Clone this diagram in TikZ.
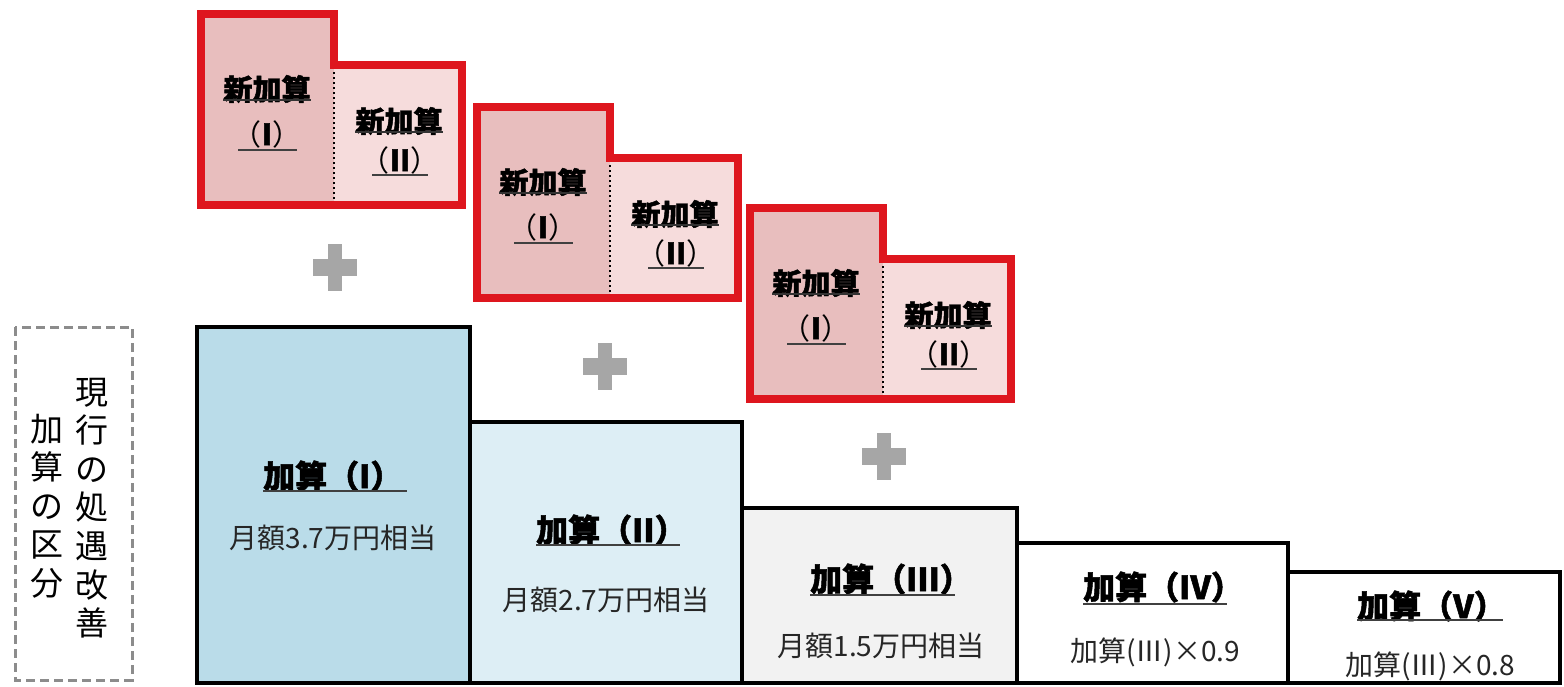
\documentclass[tikz,border=0pt]{standalone}
\usepackage{fontspec}
\newfontfamily\jp{Noto Sans CJK JP}[BoldFeatures={FakeBold=1.6}]
\definecolor{redline}{RGB}{222,22,30}
\definecolor{pinkA}{RGB}{232,190,190}
\definecolor{pinkB}{RGB}{246,220,220}
\definecolor{blueA}{RGB}{186,220,233}
\definecolor{blueB}{RGB}{221,238,245}
\definecolor{grayC}{RGB}{242,242,242}
\definecolor{plusgray}{RGB}{166,166,166}
\definecolor{dashgray}{RGB}{140,140,140}
\tikzset{
  x=1pt, y=-1pt,
  basebox/.style={draw=black, line width=4pt},
  head/.style={font=\jp\bfseries\fontsize{32}{34}\selectfont, inner sep=0pt, anchor=west},
  sub/.style={font=\jp\fontsize{28}{30}\selectfont, inner sep=0pt, text=black!85},
  newt/.style={font=\jp\bfseries\fontsize{29}{31}\selectfont, inner sep=0pt},
  newn/.style={font=\jp\fontsize{29}{31}\selectfont, inner sep=0pt},
  uline/.style={line width=2pt, black!75},
  thinul/.style={line width=1.4pt, black!80},
  redout/.style={draw=redline, line width=8pt, line join=miter},
  divider/.style={line width=2.2pt, dash pattern=on 2.2pt off 2.8pt, black},
  vert/.style={font=\jp\fontsize{33}{38.6}\selectfont, align=center, inner sep=0pt},
}
\newcommand\plussign[2]{%
  \fill[plusgray] (#1-22,#2-8.5) rectangle (#1+22,#2+8.5);
  \fill[plusgray] (#1-7,#2-23.5) rectangle (#1+7,#2+23.5);}
\newcommand\redgroup[1]{%
  \fill[pinkA] (201,14) rectangle (334,205);
  \fill[pinkB] (334,65) rectangle (462,205);
  \draw[divider] (334,67) -- (334,203);
  \draw[redout] (201,14) -- (334,14) -- (334,65) -- (462,65) -- (462,205) -- (201,205) -- cycle;
  \node[newt] (#1la) at (267,89) {新加算};
  \node[newn] (#1lb) at (267,134) {（\textbf{I}）};
  \draw[thinul] (#1la.south west) ++(0,-3) -- ([yshift=3pt]#1la.south east);
  \draw[uline] (238,150) -- (297,150);
  \node[newt] (#1ra) at (399,121) {新加算};
  \node[newn] (#1rb) at (400,160) {（\textbf{II}）};
  \draw[thinul] (#1ra.south west) ++(0,-3) -- ([yshift=3pt]#1ra.south east);
  \draw[uline] (372,175) -- (428,175);}
\begin{document}
\begin{tikzpicture}
\useasboundingbox (0,0) rectangle (1564,686);
\fill[white] (0,0) rectangle (1564,686);

% dashed label box
\draw[dashgray, line width=3pt, dash pattern=on 9pt off 5pt] (15,327) rectangle (132,680);
\node[vert] (colR) at (92,508) {現\\行\\の\\処\\遇\\改\\善};
\node[vert] (colL) at (47,506) {加\\算\\の\\区\\分};

% base boxes
\draw[basebox, fill=blueA] (197,327) rectangle (470,683);
\draw[basebox, fill=blueB] (470,422) rectangle (742,683);
\draw[basebox, fill=grayC] (742,508) rectangle (1017,683);
\draw[basebox, fill=white] (1017,543) rectangle (1288,683);
\draw[basebox, fill=white] (1288,572) rectangle (1560,683);

% headings
\node[head] (h1) at (263,476) {加算（I）};
\draw[uline] (263,491) -- (407,491);
\node[sub] (s1) at (333,538) {月額3.7万円相当};

\node[head] (h2) at (536,530) {加算（II）};
\draw[uline] (536,545) -- (680,545);
\node[sub] (s2) at (606,600) {月額2.7万円相当};

\node[head] (h3) at (810,579) {加算（III）};
\draw[uline] (810,595) -- (955,595);
\node[sub] (s3) at (881,646) {月額1.5万円相当};

\node[head] (h4) at (1083,587) {加算（IV）};
\draw[uline] (1083,604) -- (1227,604);
\node[sub] (s4) at (1155,652) {加算(Ⅲ)×0.9};

\node[head] (h5) at (1357,606) {加算（V）};
\draw[uline] (1357,620) -- (1503,620);
\node[sub] (s5) at (1430,666) {加算(Ⅲ)×0.8};

% red groups
\begin{scope}\redgroup{ga}\end{scope}
\begin{scope}[shift={(276,93)}]\redgroup{gb}\end{scope}
\begin{scope}[shift={(549,194)}]\redgroup{gc}\end{scope}

% plus signs
\plussign{335}{267}
\plussign{605}{366}
\plussign{884}{456}
\end{tikzpicture}
\end{document}
